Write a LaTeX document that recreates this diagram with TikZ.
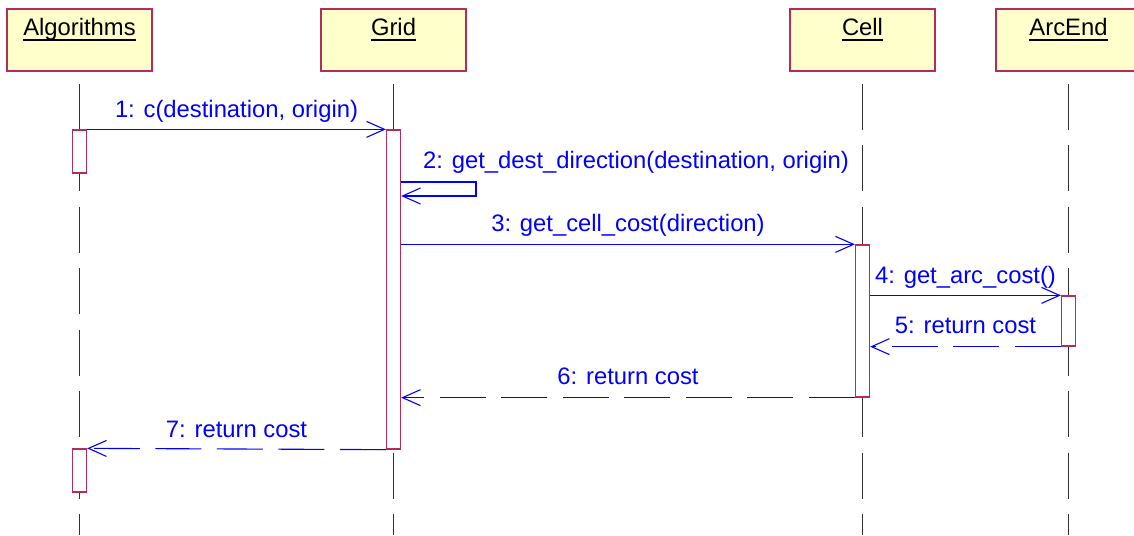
\documentclass[tikz,border=0pt]{standalone}
\usepackage{fontspec}
\setmainfont{Liberation Sans}
\usetikzlibrary{arrows.meta}
\definecolor{hdrfill}{RGB}{255,255,204}
\definecolor{hdrline}{RGB}{180,45,90}
\definecolor{msgblue}{RGB}{0,0,255}
\begin{document}
\begin{tikzpicture}[x=1pt,y=-1pt,
  font=\fontsize{23.8}{28}\selectfont,
  hdr/.style={draw=hdrline, fill=hdrfill, line width=1.3pt, minimum width=145pt, minimum height=62pt, inner sep=0pt},
  act/.style={draw=hdrline, fill=white, line width=1.3pt, minimum width=14pt, inner sep=0pt},
  life/.style={draw=black!80, line width=1.1pt, dash pattern=on 46pt off 15.5pt},
  msg/.style={draw=msgblue, line width=1.1pt, -{Straight Barb[length=18pt,width=16pt]}},
  ret/.style={msg, dash pattern=on 46pt off 15.5pt},
  lbl/.style={text=msgblue, anchor=base, inner sep=0pt},
  ttl/.style={anchor=base, inner sep=0pt},
  uline/.style={line width=1.3pt}]
\useasboundingbox (0,0) rectangle (1134,535);
\fill[white] (0,0) rectangle (1134,535);
\coordinate (bot) at (0,535);
% headers
\node[hdr] (alg) at (79.5,40) {};
\node[hdr] (grid) at (393.5,40) {};
\node[hdr] (cell) at (862.5,40) {};
\node[hdr] (arc) at (1068.5,40) {};
\node[ttl] (algt) at (alg.center |- 0,36) {Algorithms};
\node[ttl] (gridt) at (grid.center |- 0,36) {Grid};
\node[ttl] (cellt) at (cell.center |- 0,36) {Cell};
\node[ttl] (arct) at (arc.center |- 0,36) {ArcEnd};
\foreach \t in {algt,gridt,cellt,arct}
  \draw[uline] ([yshift=-4pt]\t.base west) -- ([yshift=-4pt]\t.base east);
% lifelines
\foreach \h in {alg,grid,cell,arc}
  \draw[life] ([yshift=-12pt]\h.south) -- (\h.south |- bot);
% activations
\node[act, minimum height=43pt] (a1) at (alg.center |- 0,151.5) {};
\node[act, minimum height=319pt] (g1) at (grid.center |- 0,289.5) {};
\node[act, minimum height=152pt] (c1) at (cell.center |- 0,321) {};
\node[act, minimum height=50pt] (e1) at (arc.center |- 0,321) {};
\node[act, minimum height=43pt] (a2) at (alg.center |- 0,470.5) {};
% messages
\draw[msg] (a1.north east) -- (g1.north west)
  node[lbl, pos=0.5, yshift=12pt] (m1) {1: c(destination, origin)};
\draw[msg] (g1.east |- 0,182) -| (476,196) -- (g1.east |- 0,196);
\node[lbl, anchor=base west] (m2) at (423,168) {2: get\_dest\_direction(destination, origin)};
\draw[msg] (g1.east |- c1.north) -- (c1.north west)
  node[lbl, pos=0.5, yshift=13pt] (m3) {3: get\_cell\_cost(direction)};
\draw[msg] (c1.east |- e1.north) -- (e1.north west)
  node[lbl, pos=0.5, yshift=12pt] (m4) {4: get\_arc\_cost()};
\draw[ret] (e1.south west) -- (c1.east |- e1.south)
  node[lbl, pos=0.5, yshift=13pt] (m5) {5: return cost};
\draw[ret] (c1.south west) -- (g1.east |- c1.south)
  node[lbl, pos=0.5, yshift=13pt] (m6) {6: return cost};
\draw[ret] (g1.south west) -- (a2.north east)
  node[lbl, pos=0.5, yshift=12pt] (m7) {7: return cost};
\end{tikzpicture}
\end{document}
